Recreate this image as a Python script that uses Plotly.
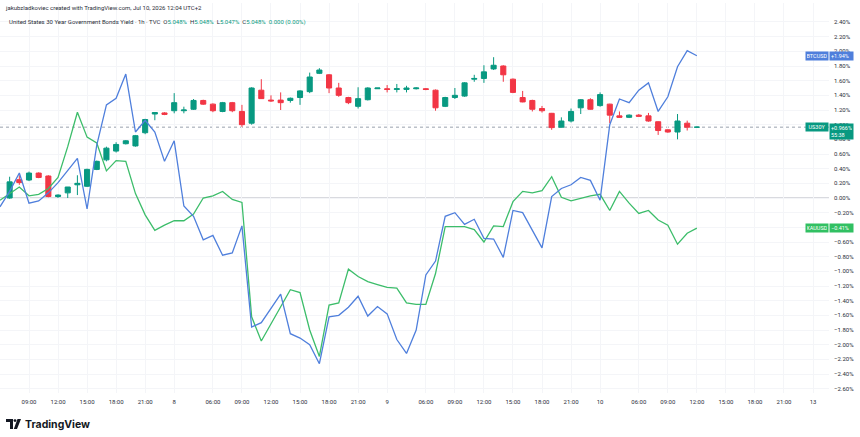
import plotly.graph_objects as go

# ---------------- data ----------------
# bar index (1h bars, market-closed hours skipped)
bars = list(range(72))
us30y_open = [0.00, 0.25, 0.245, 0.34, 0.30, 0.02, 0.07, 0.18, 0.16, 0.39, 0.52, 0.64, 0.74, 0.71, 0.89, 1.145,
              1.16, 1.19, 1.19, 1.21, 1.33, 1.28, 1.18, 1.30, 1.18, 1.02, 1.47, 1.335, 1.335, 1.33, 1.37, 1.45,
              1.70, 1.68, 1.50, 1.37, 1.25, 1.34, 1.49, 1.49, 1.48, 1.48, 1.49, 1.49, 1.47, 1.25, 1.37, 1.39,
              1.62, 1.63, 1.76, 1.80, 1.62, 1.37, 1.33, 1.22, 1.155, 0.965, 1.05, 1.23, 1.34, 1.26, 1.28, 1.12,
              1.10, 1.13, 1.12, 1.04, 0.93, 0.90, 1.02, 0.965]
us30y_high = [0.29, 0.31, 0.36, 0.35, 0.31, 0.05, 0.15, 0.31, 0.40, 0.51, 0.70, 0.76, 0.79, 0.86, 1.08, 1.17,
              1.17, 1.43, 1.245, 1.35, 1.34, 1.29, 1.31, 1.31, 1.27, 1.51, 1.62, 1.40, 1.44, 1.37, 1.47, 1.71,
              1.77, 1.69, 1.57, 1.38, 1.51, 1.51, 1.50, 1.54, 1.555, 1.53, 1.51, 1.50, 1.48, 1.38, 1.50, 1.58,
              1.68, 1.81, 1.92, 1.81, 1.63, 1.46, 1.34, 1.255, 1.16, 1.10, 1.22, 1.35, 1.36, 1.44, 1.285, 1.18,
              1.14, 1.145, 1.16, 1.045, 0.935, 1.145, 1.055, 0.975]
us30y_low = [-0.01, 0.18, 0.23, 0.27, 0.01, 0.00, 0.00, 0.04, 0.15, 0.38, 0.50, 0.62, 0.73, 0.70, 0.87, 1.06,
             1.13, 1.155, 1.155, 1.20, 1.27, 1.17, 1.17, 1.17, 0.97, 1.00, 1.35, 1.31, 1.20, 1.30, 1.27, 1.43,
             1.69, 1.43, 1.38, 1.28, 1.22, 1.33, 1.49, 1.44, 1.44, 1.44, 1.48, 1.47, 1.19, 1.24, 1.35, 1.38,
             1.585, 1.57, 1.745, 1.585, 1.43, 1.305, 1.18, 1.165, 0.93, 0.96, 1.03, 1.145, 1.205, 1.245, 1.02, 1.095,
             1.09, 1.11, 1.04, 0.86, 0.89, 0.80, 0.92, 0.955]
us30y_close = [0.22, 0.21, 0.34, 0.28, 0.02, 0.04, 0.15, 0.20, 0.39, 0.50, 0.68, 0.73, 0.78, 0.85, 1.07, 1.165,
               1.14, 1.30, 1.20, 1.33, 1.28, 1.19, 1.30, 1.19, 1.00, 1.50, 1.355, 1.325, 1.30, 1.36, 1.46, 1.65,
               1.745, 1.50, 1.40, 1.30, 1.355, 1.50, 1.50, 1.48, 1.49, 1.50, 1.50, 1.48, 1.23, 1.37, 1.40, 1.57,
               1.63, 1.72, 1.81, 1.68, 1.44, 1.31, 1.21, 1.19, 0.96, 1.05, 1.18, 1.34, 1.21, 1.41, 1.13, 1.10,
               1.13, 1.115, 1.05, 0.92, 0.90, 1.05, 0.965, 0.966]

# comparison lines (start one bar earlier, off the left edge)
line_bars = list(range(-1, 72))
btcusd = [-0.12, 0.09, 0.34, -0.07, -0.04, 0.07, 0.21, 0.38, 0.54, -0.15, 0.72, 1.27, 1.36, 1.69, 0.90, 1.06,
          0.90, 0.50, 0.78, -0.11, -0.25, -0.57, -0.51, -0.78, -0.75, -0.38, -1.76, -1.70, -1.50, -1.31, -1.85,
          -1.91, -2.00, -2.26, -1.62, -1.60, -1.49, -1.34, -1.61, -1.48, -1.58, -1.93, -2.12, -1.80, -1.05,
          -0.86, -0.25, -0.20, -0.36, -0.29, -0.55, -0.56, -0.81, -0.17, -0.20, -0.43, -0.68, 0.02, 0.13, 0.18,
          0.28, 0.24, -0.03, 1.00, 1.35, 1.30, 1.47, 1.57, 1.18, 1.38, 1.79, 2.01, 1.94]
xauusd = [-0.03, 0.06, 0.15, 0.03, 0.05, 0.13, 0.28, 0.70, 1.17, 0.83, 0.75, 0.37, 0.51, 0.50, 0.06, -0.23,
          -0.44, -0.37, -0.31, -0.31, -0.22, 0.00, 0.03, 0.09, -0.02, -0.06, -1.62, -1.95, -1.71, -1.47, -1.25,
          -1.29, -1.80, -2.16, -1.46, -1.43, -0.97, -1.07, -1.14, -1.18, -1.22, -1.23, -1.43, -1.45, -1.45,
          -1.03, -0.39, -0.39, -0.39, -0.43, -0.60, -0.38, -0.39, -0.05, 0.09, 0.07, 0.10, 0.29, 0.01, -0.04,
          0.00, 0.03, 0.05, -0.17, 0.09, -0.07, -0.21, -0.17, -0.30, -0.37, -0.63, -0.48, -0.41]

x_tick_bars = [2, 5, 8, 11, 14, 17, 21, 24, 27, 30, 33, 36, 39, 43, 46, 49, 52, 55, 58, 61, 65, 68, 71, 74, 77, 80, 83]
x_tick_labels = ["09:00", "12:00", "15:00", "18:00", "21:00", "8", "06:00", "09:00", "12:00", "15:00", "18:00",
                 "21:00", "9", "06:00", "09:00", "12:00", "15:00", "18:00", "21:00", "10", "06:00", "09:00",
                 "12:00", "15:00", "18:00", "21:00", "13"]
# the −0.40% label is hidden behind the XAUUSD tag in the original
y_tick_vals = [2.4, 2.2, 2.0, 1.8, 1.6, 1.4, 1.2, 1.0, 0.8, 0.6, 0.4, 0.2, 0.0, -0.2, -0.4, -0.6, -0.8, -1.0,
               -1.2, -1.4, -1.6, -1.8, -2.0, -2.2, -2.4, -2.6]
y_tick_labels = ["2.40%", "2.20%", "2.00%", "1.80%", "1.60%", "1.40%", "1.20%", "1.00%", "0.80%", "0.60%",
                 "0.40%", "0.20%", "0.00%", "\u22120.20%", "", "\u22120.60%", "\u22120.80%",
                 "\u22121.00%", "\u22121.20%", "\u22121.40%", "\u22121.60%", "\u22121.80%", "\u22122.00%",
                 "\u22122.20%", "\u22122.40%", "\u22122.60%"]

last_us30y = 0.966
last_btc = 1.94
last_xau = -0.41

# ---------------- styling ----------------
W, H = 860, 437
PLOT_R = 829          # plot area right edge (px)
PLOT_T, PLOT_B = 3, 393
FONT = "Roboto, 'Noto Sans', sans-serif"
TXT = "#2a2e39"
GREEN_C = "#089981"
RED_C = "#F23645"
BTC_C = "#4f7fdc"
XAU_C = "#3cbd6a"


def px(x):
    return x / PLOT_R


def py(y):
    return (PLOT_B - y) / (PLOT_B - PLOT_T)


fig = go.Figure()

fig.add_trace(go.Scatter(x=line_bars, y=xauusd, mode="lines",
                         line=dict(color=XAU_C, width=1.3), hoverinfo="skip"))
fig.add_trace(go.Scatter(x=line_bars, y=btcusd, mode="lines",
                         line=dict(color=BTC_C, width=1.3), hoverinfo="skip"))
fig.add_trace(go.Candlestick(
    x=bars, open=us30y_open, high=us30y_high, low=us30y_low, close=us30y_close,
    increasing=dict(line=dict(color=GREEN_C, width=1), fillcolor=GREEN_C),
    decreasing=dict(line=dict(color=RED_C, width=1), fillcolor=RED_C),
    whiskerwidth=0, hoverinfo="skip"))

fig.update_layout(
    width=W, height=H,
    margin=dict(l=0, r=W - PLOT_R, t=PLOT_T, b=H - PLOT_B),
    paper_bgcolor="white", plot_bgcolor="white",
    showlegend=False, boxgap=0.25,
    font=dict(family=FONT, size=6, color=TXT),
    xaxis=dict(range=[-0.996, 84.65], tickvals=x_tick_bars, ticktext=x_tick_labels,
               showgrid=True, gridcolor="#f4f5f8", gridwidth=1, zeroline=False, showline=False,
               ticks="", tickfont=dict(size=6, color=TXT), ticklabelstandoff=4,
               rangeslider=dict(visible=False), fixedrange=True, automargin=False),
    yaxis=dict(side="right", range=[-2.659, 2.659], tickvals=y_tick_vals, ticktext=y_tick_labels,
               showgrid=True, gridcolor="#f4f5f8", gridwidth=1, zeroline=False, showline=False,
               ticks="", tickfont=dict(size=6, color=TXT), ticklabelstandoff=4, automargin=False),
)

# zero line and current-price dotted line
fig.add_shape(type="line", xref="paper", x0=0, x1=1, yref="y", y0=0, y1=0,
              line=dict(color="#b2b5be", width=1), layer="below")
fig.add_shape(type="line", xref="paper", x0=0, x1=1, yref="y", y0=last_us30y, y1=last_us30y,
              line=dict(color="#9aa1ad", width=1, dash="dot"), layer="below")


# right-side labels
def tag(name, value, yv, color, h_extra=False):
    fig.add_annotation(x=px(817), xref="paper", y=yv, yref="y", text=name, showarrow=False,
                       font=dict(size=5.5, color="white", family=FONT), bgcolor=color,
                       borderpad=1, xanchor="center", yanchor="middle", width=20)
    fig.add_annotation(x=px(829.5), xref="paper", y=yv, yref="y", text=value, showarrow=False,
                       font=dict(size=5.5, color="white", family=FONT), bgcolor=color,
                       borderpad=1, xanchor="left", yanchor="top" if h_extra else "middle",
                       yshift=4 if h_extra else 0, width=21, align="left")


tag("BTCUSD", "+1.94%", last_btc, BTC_C)
tag("US30Y", "+0.966%<br>55:38", last_us30y, GREEN_C, h_extra=True)
tag("XAUUSD", "\u22120.41%", last_xau, "#31c062")

# header texts
fig.add_annotation(x=px(3), y=py(8), xref="paper", yref="paper", xanchor="left", yanchor="middle",
                   showarrow=False, font=dict(size=6, color=TXT, family=FONT),
                   text="jakubzladkoviec created with TradingView.com, Jul 10, 2026 12:04 UTC+2")
g = GREEN_C
fig.add_annotation(x=px(7), y=py(22), xref="paper", yref="paper", xanchor="left", yanchor="middle",
                   showarrow=False, font=dict(size=6, color=TXT, family=FONT),
                   text=("United States 30 Year Government Bonds Yield · 1h · TVC  "
                         f"O<span style='color:{g}'>5.048%</span>  H<span style='color:{g}'>5.048%</span>  "
                         f"L<span style='color:{g}'>5.047%</span>  C<span style='color:{g}'>5.048%</span>  "
                         f"<span style='color:{g}'>0.000 (0.00%)</span>"))

# TradingView logo
fig.add_annotation(x=px(23), y=py(424), xref="paper", yref="paper", xanchor="left", yanchor="middle",
                   showarrow=False, text="<b>TradingView</b>",
                   font=dict(size=10.5, color="#131722", family="Inter, Roboto, sans-serif"))
logo_col = "#131722"
fig.add_shape(type="path", xref="paper", yref="paper",
              path=(f"M {px(6)} {py(419)} L {px(13)} {py(419)} L {px(13)} {py(429)} L {px(10)} {py(429)} "
                    f"L {px(10)} {py(422)} L {px(6)} {py(422)} Z"),
              fillcolor=logo_col, line=dict(width=0))
fig.add_shape(type="circle", xref="paper", yref="paper",
              x0=px(13.6), x1=px(16.4), y0=py(419.2), y1=py(422), fillcolor=logo_col, line=dict(width=0))
fig.add_shape(type="path", xref="paper", yref="paper",
              path=(f"M {px(17.5)} {py(419)} L {px(21)} {py(419)} L {px(17)} {py(429)} L {px(13.8)} {py(429)} Z"),
              fillcolor=logo_col, line=dict(width=0))

fig.write_html("out.html")
